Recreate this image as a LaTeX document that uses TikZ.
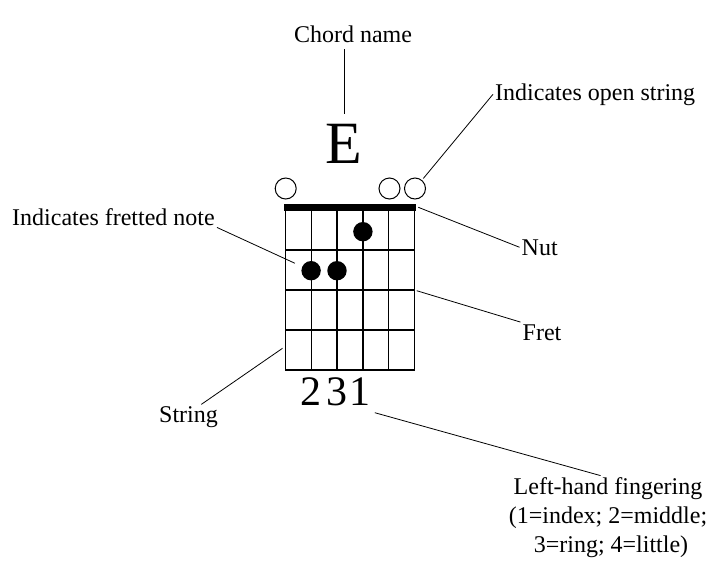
\documentclass[tikz,border=0pt]{standalone}
\usepackage{fontspec}
\setmainfont{Liberation Serif}
\usetikzlibrary{positioning}

\begin{document}
\begin{tikzpicture}[x=1pt, y=-1pt,
  lbl/.style={inner sep=2pt, font=\fontsize{24}{29}\selectfont},
  lead/.style={line width=0.8pt},
  opencirc/.style={circle, draw, line width=1pt, minimum size=21pt, inner sep=0pt},
  dot/.style={circle, fill=black, minimum size=19.4pt, inner sep=0pt},
  fing/.style={inner sep=1pt, font=\fontsize{42}{48}\selectfont}]
\useasboundingbox (0,0) rectangle (728,574);
% fretboard
\draw [line width=1.4pt] (285.7,210) rectangle (414.3,370);
\foreach \i in {1,...,4} \draw [line width=1.4pt] ({285.7+25.72*\i},210) -- ({285.7+25.72*\i},370);
\foreach \j in {1,...,3} \draw [line width=1.4pt] (285.7,{210+40*\j}) -- (414.3,{210+40*\j});
\draw [line width=6.4pt] (284,207.5) -- (415.7,207.5);
% open strings and fretted notes
\node [opencirc] (o1) at (285.7,188.5) {};
\node [opencirc] (o5) at (389.5,188.5) {};
\node [opencirc] (o6) at (415,188.5) {};
\node [dot] (d1) at (362.9,231.7) {};
\node [dot] (d2) at (311.1,270.7) {};
\node [dot] (d3) at (337.0,270.7) {};
% chord name and fingering
\node [inner sep=2pt, font=\fontsize{60}{70}\selectfont, anchor=base] (chord) at (344,163) {E};
\node [fing] (f2) at (311,392) {2};
\node [fing] (f3) at (337,392) {3};
\node [fing] (f1) at (359.5,392) {1};
% labels
\node [lbl, anchor=base] (namelbl) at (353,42) {Chord name};
\node [lbl, anchor=base west] (openlbl) at (493,100) {Indicates open string};
\node [lbl, anchor=base west] (frettedlbl) at (10,225) {Indicates fretted note};
\node [lbl, anchor=base west] (nutlbl) at (519.5,255) {Nut};
\node [lbl, anchor=base west] (fretlbl) at (520.5,340) {Fret};
\node [lbl, anchor=base west] (stringlbl) at (157,422.5) {String};
\node [lbl, anchor=north, align=center] (fingerlbl) at (608,475.6) {Left-hand fingering\\(1=index; 2=middle;\\ \ 3=ring; 4=little)};
\coordinate (nutend) at (418.3,207.3);
\coordinate (fretend) at (416.7,290.7);
\coordinate (stringend) at (282.5,348.3);
\coordinate (fingerend) at (374.8,412.7);
% leaders
\draw [lead, shorten <=5pt, shorten >=8pt] (namelbl.south -| chord.north) -- (chord.north);
\draw [lead, shorten >=2pt] (openlbl.west) -- (o6);
\draw [lead, shorten >=8pt] (frettedlbl.south east) -- (d2);
\draw [lead] (nutlbl.west) -- (nutend);
\draw [lead] (fretlbl.north west) -- (fretend);
\draw [lead] (stringlbl.45) -- (stringend);
\draw [lead] (fingerlbl.100) -- (fingerend);
\end{tikzpicture}
\end{document}
